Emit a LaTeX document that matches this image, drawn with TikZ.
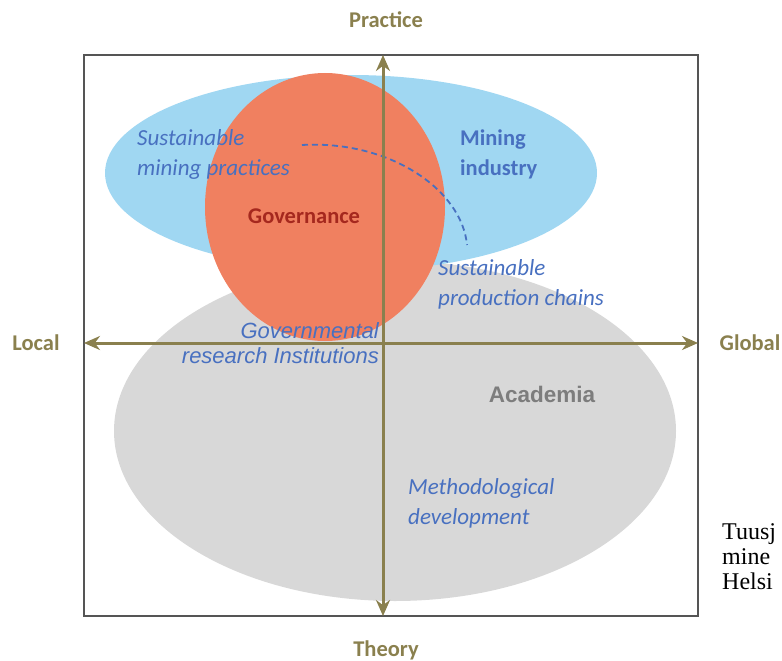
\documentclass[tikz,border=0pt]{standalone}
\usepackage{fontspec}
\setmainfont{Carlito}
\newfontfamily\arialf{Liberation Sans}
\newfontfamily\timesf{Liberation Serif}
\usetikzlibrary{arrows.meta}
\definecolor{skyb}{RGB}{160,215,242}
\definecolor{orng}{RGB}{240,128,96}
\definecolor{grayel}{RGB}{216,216,216}
\definecolor{olive}{RGB}{138,128,78}
\definecolor{txtblue}{RGB}{72,112,192}
\definecolor{govred}{RGB}{165,40,30}
\definecolor{acagray}{RGB}{125,125,125}
\definecolor{framec}{RGB}{85,85,85}
\tikzset{
  axlabel/.style={font=\fontsize{22.5}{24}\selectfont\bfseries, text=olive, inner sep=0pt},
  bluetxt/.style={font=\fontsize{23}{30}\selectfont\itshape, text=txtblue, align=left, inner sep=0pt},
  axarrow/.style={draw=olive, line width=3pt, -{Stealth[length=16pt,width=14pt]}},
}
\begin{document}
\begin{tikzpicture}[x=1pt,y=-1pt]
\useasboundingbox (0,0) rectangle (782,661);
% ellipses
\fill[grayel] (395,431) ellipse [x radius=281, y radius=170];
\fill[skyb] (351,173) ellipse [x radius=246, y radius=98];
\fill[orng] (325,207) ellipse [x radius=120, y radius=134];
% frame
\draw[framec, line width=2pt] (84,55) rectangle (698,616);
\coordinate (top) at (383,55);
\coordinate (bot) at (383,616);
\coordinate (left) at (84,343);
\coordinate (right) at (698,343);
\coordinate (ctr) at (383,343);
% dashed curve
\coordinate (ds) at (302,145);
\coordinate (de) at (467,245);
\draw[txtblue, line width=1.8pt, dash pattern=on 6pt off 4pt] (ds) .. controls (390,140) and (462,190) .. (de);
% axes
\draw[axarrow] (ctr) -- (top);
\draw[axarrow] (ctr) -- (bot);
\draw[axarrow] (ctr) -- (left);
\draw[axarrow] (ctr) -- (right);
% axis labels
\node[axlabel] (practice) at (386,20) {Practice};
\node[axlabel] (theory) at (386,650) {Theory};
\node[axlabel] (local) at (36,343) {Local};
\node[axlabel] (global) at (750,343) {Global};
% texts
\node[bluetxt, anchor=north west] (smp) at (137,129) {Sustainable\\mining\ practices};
\node[font=\fontsize{22.5}{30}\selectfont\bfseries, text=txtblue, align=left, inner sep=0pt, anchor=north west] (mi) at (460,130) {Mining\\industry};
\node[font=\fontsize{22.5}{24}\selectfont\bfseries, text=govred, inner sep=0pt] (gov) at (304,216) {Governance};
\node[bluetxt, anchor=north west] (spc) at (438,259) {Sustainable\\production chains};
\node[font=\fontsize{22}{25}\selectfont\arialf\itshape, text=txtblue, align=right, inner sep=0pt, anchor=north east] (gri) at (379,322) {Governmental\\research Institutions};
\node[font=\fontsize{22.5}{24}\selectfont\arialf\bfseries, text=acagray, inner sep=0pt] (aca) at (542,394) {Academia};
\node[bluetxt, anchor=north west] (md) at (408,478) {Methodological\\development};
\node[font=\fontsize{24}{25}\selectfont\timesf, text=black, align=left, inner sep=0pt, anchor=north west] (cite) at (722,523) {Tuusj\\mine\\Helsi};
\end{tikzpicture}
\end{document}
